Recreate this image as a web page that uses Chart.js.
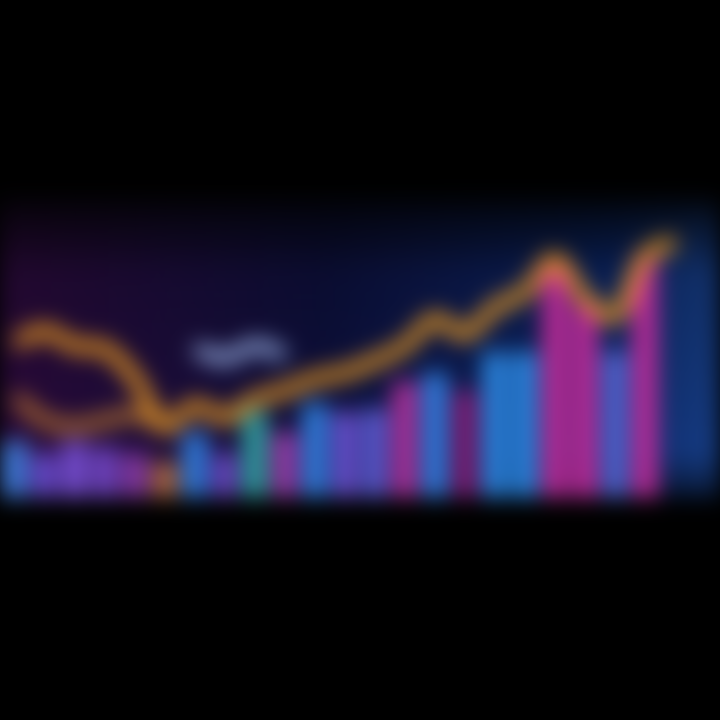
<!DOCTYPE html>
<html>
<head>
<meta charset="utf-8">
<script src="https://cdn.jsdelivr.net/npm/chart.js@4.4.0/dist/chart.umd.min.js"></script>
<style>
  html, body { margin: 0; padding: 0; background: #000; }
  #wrap { width: 720px; height: 720px; }
  canvas { filter: blur(11px); }
</style>
</head>
<body>
<div id="wrap"><canvas id="chart1" width="720" height="720"></canvas></div>
<script>
const labels = ['1','2','3','4','5','6','7','8','9','10','11','12','13','14','15','16','17','18','19','20','21','22','23','24'];
const barValues = [19, 15, 19, 17, 15, 12, 22, 15, 29, 22, 32, 29, 30, 39, 42, 36, 49, 49, 78, 66, 49, 81, 0, 0];
const barColors = ['#3f7fe0', '#6a4ad0', '#7a50d8', '#7446c8', '#8a3aa8', '#b06a40', '#2f7ee0', '#6a44c0',
  '#2fa0a0', '#9a3aa8', '#2f80e0', '#6a50d0', '#5a5ad0', '#b0309a', '#2f7ee0', '#801a70',
  '#2a86e0', '#2a86e0', '#c02a98', '#c02a98', '#4a66d0', '#c02a98', '#000000', '#000000'];
const lineValues = [52, 56, 51, 50, 40, 24, 31, 27, 33, 36, 40, 42, 46, 51, 60, 55, 64, 69, 80, 67, 61, 81, 86, null];
const lowLoopValues = [34, 26, 24, 26, 28, 24, null, null, null, null, null, null, null, null, null, null, null, null, null, null, null, null, null, null];
const paleValues = [null, null, null, null, null, null, 50, 47, 51, 48, null, null, null, null, null, null, null, null, null, null, null, null, null, null];

const bgPlugin = {
  id: 'bg',
  beforeDraw(chart) {
    const { ctx, chartArea: a } = chart;
    const g = ctx.createLinearGradient(a.left, 0, a.right, 0);
    g.addColorStop(0, '#2a0838');
    g.addColorStop(0.45, '#0c0e3a');
    g.addColorStop(0.85, '#0a2566');
    g.addColorStop(1, '#163d84');
    ctx.save();
    ctx.fillStyle = g;
    ctx.fillRect(a.left, a.top, a.right - a.left, a.bottom - a.top);
    const v = ctx.createLinearGradient(0, a.top, 0, a.bottom);
    v.addColorStop(0, 'rgba(0,0,0,0.85)');
    v.addColorStop(0.25, 'rgba(0,0,0,0.2)');
    v.addColorStop(0.85, 'rgba(0,0,0,0)');
    v.addColorStop(1, 'rgba(0,0,0,0.6)');
    ctx.fillStyle = v;
    ctx.fillRect(a.left, a.top, a.right - a.left, a.bottom - a.top);
    ctx.restore();
  }
};

const chart1 = new Chart(document.getElementById('chart1'), {
  type: 'bar',
  data: {
    labels: labels,
    datasets: [{
      type: 'line',
      label: 'Trend',
      data: lineValues,
      borderColor: '#e8981e',
      borderWidth: 13,
      tension: 0.35,
      pointRadius: 0,
      order: 0
    }, {
      type: 'line',
      label: 'Loop',
      data: lowLoopValues,
      borderColor: 'rgba(220,140,40,0.8)',
      borderWidth: 12,
      tension: 0.4,
      pointRadius: 0,
      order: 1
    }, {
      type: 'line',
      label: 'Pale',
      data: paleValues,
      borderColor: '#8ea4d8',
      borderWidth: 13,
      tension: 0.4,
      pointRadius: 0,
      order: 1
    }, {
      label: 'Bars',
      data: barValues,
      backgroundColor: barColors,
      barPercentage: 0.8,
      categoryPercentage: 1,
      order: 2
    }]
  },
  options: {
    responsive: false,
    animation: false,
    layout: {
      padding: { top: 200, bottom: 222, left: 0, right: 0 }
    },
    plugins: {
      legend: { display: false },
      tooltip: { enabled: false }
    },
    scales: {
      x: {
        display: true,
        ticks: { display: false },
        border: { display: false },
        grid: { color: 'rgba(90,120,200,0.15)', drawTicks: false }
      },
      y: {
        min: 0,
        max: 100,
        display: true,
        ticks: { display: false },
        border: { display: false },
        grid: { color: 'rgba(90,120,200,0.15)', drawTicks: false }
      }
    }
  },
  plugins: [bgPlugin]
});
</script>
</body>
</html>
